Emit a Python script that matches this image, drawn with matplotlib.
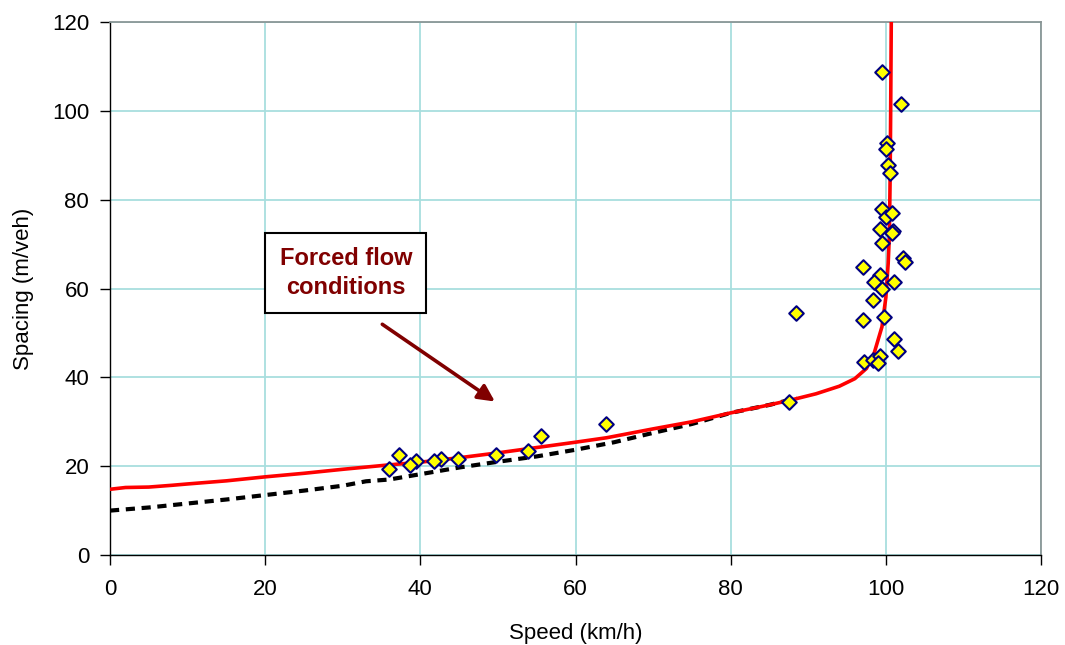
import numpy as np
import matplotlib.pyplot as plt

# observed data (speed km/h, spacing m/veh)
obs_speed = [99.5, 101.9, 100.2, 100.0, 100.3, 100.5, 99.5, 100.0, 100.8, 99.3,
             100.9, 100.8, 99.5, 102.2, 102.5, 97.0, 99.2, 98.5, 101.0, 99.5,
             98.3, 88.4, 97.0, 99.7, 101.0, 101.5, 97.2, 98.3, 99.3, 99.0,
             87.5, 63.9, 55.6, 53.9, 49.8, 44.8, 42.7, 41.7, 39.4, 38.7,
             37.3, 36.0]
obs_spacing = [108.7, 101.5, 92.7, 91.3, 87.8, 86.1, 77.8, 76.2, 76.9, 73.3,
               72.9, 72.5, 70.2, 66.9, 65.9, 64.8, 63.0, 61.4, 61.4, 60.0,
               57.4, 54.5, 52.9, 53.6, 48.6, 46.0, 43.4, 43.9, 44.8, 43.3,
               34.4, 29.4, 26.8, 23.4, 22.5, 21.6, 21.6, 21.2, 21.2, 20.3,
               22.5, 19.4]

# fitted model curve (red)
fit_speed = [0, 2, 5, 8, 10, 15, 20, 25, 30, 36, 40, 45, 50, 55, 60, 64, 70,
             75, 80, 85, 88, 91, 94, 96, 97.5, 98.5, 99.5, 100.0, 100.3,
             100.45, 100.55, 100.62, 100.7]
fit_spacing = [14.8, 15.2, 15.3, 15.7, 16.0, 16.7, 17.6, 18.4, 19.3, 20.3,
               20.9, 21.9, 23.0, 24.2, 25.4, 26.4, 28.4, 30.0, 32.0, 33.8,
               35.0, 36.3, 38.0, 39.7, 42.0, 45.5, 51.4, 58.0, 65.7, 72.0,
               85.0, 100.0, 121.0]

# second curve (black dashed)
alt_speed = [0, 5, 10, 15, 20, 25, 30, 33, 36, 40, 45, 50, 55, 60, 65, 70,
             75, 80, 85, 88.5]
alt_spacing = [10.0, 10.7, 11.6, 12.5, 13.5, 14.5, 15.6, 16.6, 17.0, 18.2,
               19.7, 21.0, 22.2, 23.7, 25.4, 27.5, 29.5, 32.0, 33.8, 35.3]

plt.rcParams['font.family'] = ['Liberation Sans', 'DejaVu Sans']

fig = plt.figure(figsize=(10.65, 6.45), dpi=100)
ax = fig.add_axes([0.1033, 0.1395, 0.8742, 0.8264])

ax.grid(True, color='#a8dede', linewidth=1.3)
ax.set_axisbelow(True)

ax.plot(alt_speed, alt_spacing, color='black', linestyle=(0, (2.2, 1.6)),
        linewidth=3, zorder=2)
ax.plot(fit_speed, fit_spacing, color='#ff0000', linewidth=2.6, zorder=3)
ax.scatter(obs_speed, obs_spacing, marker='D', s=55, facecolor='#ffff00',
           edgecolor='#000080', linewidth=1.5, zorder=4)

ax.set_xlim(0, 120)
ax.set_ylim(0, 120)
ax.set_xticks(np.arange(0, 121, 20))
ax.set_yticks(np.arange(0, 121, 20))
ax.tick_params(direction='out', length=7, width=1, labelsize=16, pad=8)
ax.tick_params(axis='x', pad=10)

for s in ['top', 'right']:
    ax.spines[s].set_color('#8a9696')
    ax.spines[s].set_linewidth(1.3)
for s in ['left', 'bottom']:
    ax.spines[s].set_color('black')
    ax.spines[s].set_linewidth(1.0)

ax.set_xlabel('Speed (km/h)', fontsize=16, labelpad=17)
ax.set_ylabel('Spacing (m/veh)', fontsize=16, labelpad=13)

ax.text(30.4, 63.5, 'Forced flow\nconditions', color='#800000',
        fontsize=17, fontweight='bold', ha='center', va='center',
        linespacing=1.35, zorder=5,
        bbox=dict(boxstyle='square,pad=0.6', facecolor='white',
                  edgecolor='black', linewidth=1.5))
ax.annotate('', xy=(49.9, 34.2), xytext=(34.8, 52.3),
            arrowprops=dict(arrowstyle='-|>,head_length=1.0,head_width=0.5',
                            color='#800000', linewidth=2.6),
            zorder=5)

fig.savefig('out.png', dpi=100)
